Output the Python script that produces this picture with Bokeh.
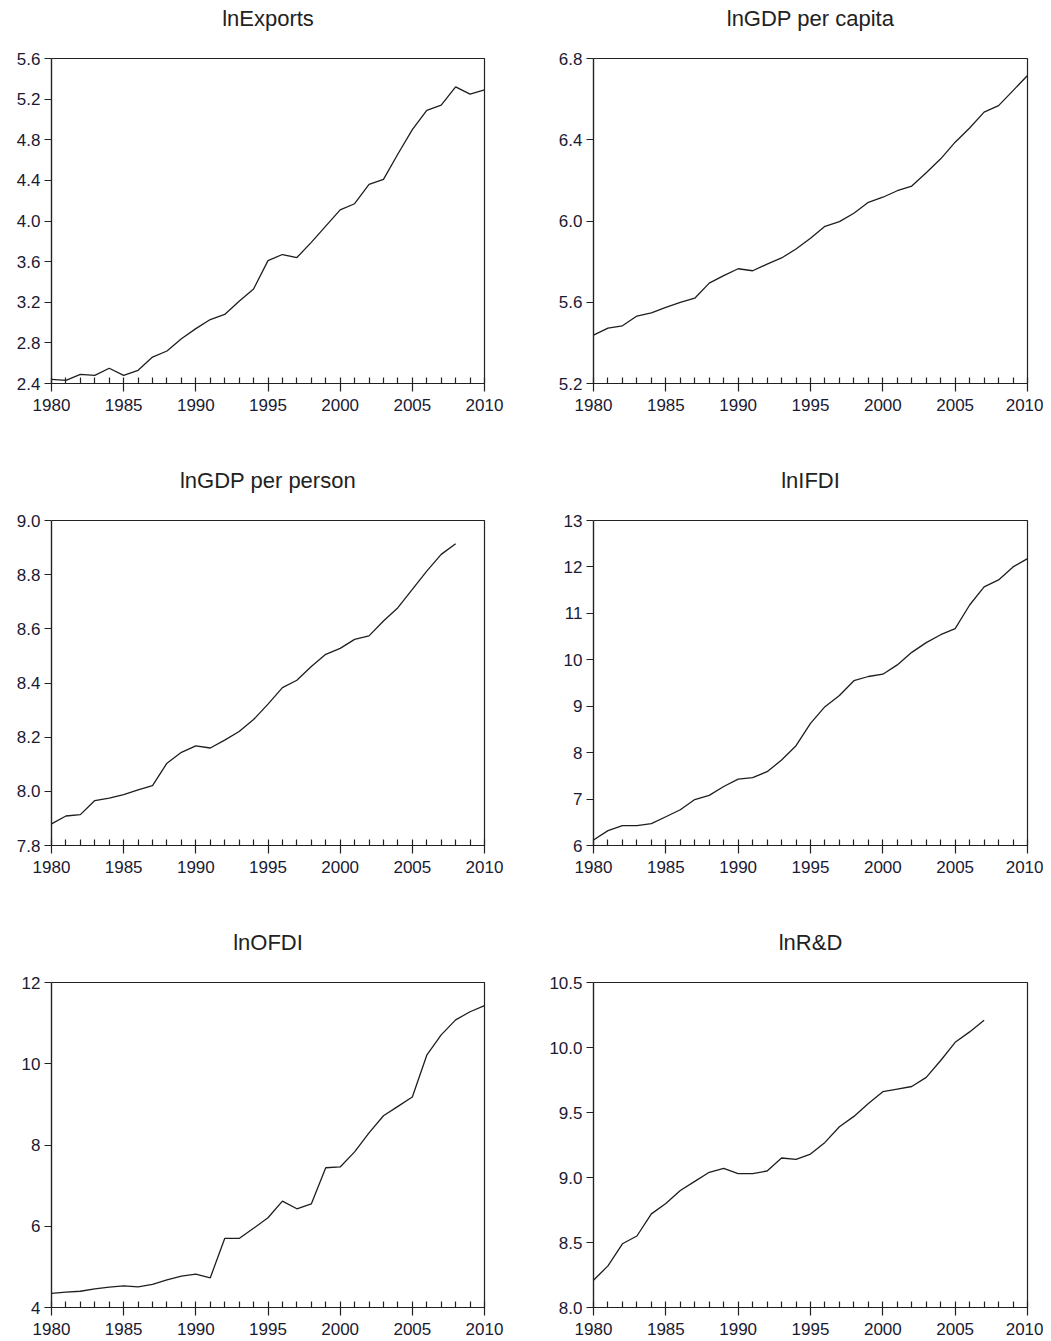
from bokeh.plotting import figure
from bokeh.layouts import column, row
from bokeh.models import FixedTicker, PrintfTickFormatter, Range1d, LinearAxis, Title
from bokeh.embed import file_html
from bokeh.resources import INLINE

years = list(range(1980, 2011))
x_ticks = [1980, 1985, 1990, 1995, 2000, 2005, 2010]

ln_exports = [2.44, 2.43, 2.49, 2.48, 2.55, 2.48, 2.53, 2.66, 2.72, 2.84,
              2.94, 3.03, 3.08, 3.21, 3.33, 3.61, 3.67, 3.64, 3.79, 3.95,
              4.11, 4.17, 4.36, 4.41, 4.66, 4.90, 5.09, 5.14, 5.32, 5.25, 5.29]

ln_gdp_per_capita = [5.438, 5.473, 5.484, 5.532, 5.548, 5.575, 5.599, 5.620, 5.694, 5.731,
                     5.765, 5.755, 5.788, 5.818, 5.862, 5.915, 5.974, 5.997, 6.038, 6.092,
                     6.117, 6.149, 6.172, 6.238, 6.306, 6.388, 6.458, 6.536, 6.568, 6.642, 6.716]

ln_gdp_per_person = [7.880, 7.909, 7.914, 7.966, 7.975, 7.988, 8.005, 8.021, 8.104, 8.144,
                     8.168, 8.160, 8.189, 8.221, 8.265, 8.322, 8.383, 8.410, 8.461, 8.506,
                     8.528, 8.561, 8.574, 8.629, 8.678, 8.746, 8.813, 8.875, 8.914]

ln_ifdi = [6.12, 6.32, 6.43, 6.43, 6.47, 6.62, 6.77, 6.99, 7.08, 7.27,
           7.43, 7.46, 7.59, 7.84, 8.15, 8.63, 8.99, 9.23, 9.55, 9.64,
           9.69, 9.89, 10.16, 10.37, 10.54, 10.67, 11.18, 11.57, 11.72, 12.00, 12.18]

ln_ofdi = [4.35, 4.38, 4.40, 4.46, 4.50, 4.53, 4.51, 4.57, 4.68, 4.77,
           4.82, 4.73, 5.70, 5.70, 5.95, 6.21, 6.62, 6.43, 6.55, 7.44,
           7.46, 7.83, 8.30, 8.72, 8.95, 9.18, 10.21, 10.71, 11.08, 11.28, 11.43]

ln_rd = [8.21, 8.32, 8.49, 8.55, 8.72, 8.80, 8.90, 8.97, 9.04, 9.07,
         9.03, 9.03, 9.05, 9.15, 9.14, 9.18, 9.27, 9.39, 9.47, 9.57,
         9.66, 9.68, 9.70, 9.77, 9.90, 10.04, 10.12, 10.21]

titles = ["lnExports", "lnGDP per capita", "lnGDP per person", "lnIFDI", "lnOFDI", "lnR&D"]
series = [ln_exports, ln_gdp_per_capita, ln_gdp_per_person, ln_ifdi, ln_ofdi, ln_rd]
y_ticks = [
    [2.4, 2.8, 3.2, 3.6, 4.0, 4.4, 4.8, 5.2, 5.6],
    [5.2, 5.6, 6.0, 6.4, 6.8],
    [7.8, 8.0, 8.2, 8.4, 8.6, 8.8, 9.0],
    [6, 7, 8, 9, 10, 11, 12, 13],
    [4, 6, 8, 10, 12],
    [8.0, 8.5, 9.0, 9.5, 10.0, 10.5],
]
y_formats = ["%.1f", "%.1f", "%.1f", "%d", "%d", "%.1f"]

FONT = "Liberation Sans"
INK = "#222222"


def make_panel(i):
    left_col = (i % 2 == 0)
    first_row = (i < 2)
    last_row = (i >= 4)
    yt = y_ticks[i]
    p = figure(
        frame_width=433 if left_col else 434,
        frame_height=325,
        min_border_left=51 if left_col else 55,
        min_border_right=54 if left_col else 16,
        min_border_top=58 if first_row else 55,
        min_border_bottom=30 if last_row else 82,
        x_range=Range1d(1980, 2010),
        y_range=Range1d(yt[0], yt[-1]),
        output_backend="svg",
        toolbar_location=None,
        tools="",
    )

    # invisible spacer between the frame and the title
    spacer = LinearAxis(ticker=FixedTicker(ticks=[1980], minor_ticks=[]),
                        major_label_overrides={1980: ""},
                        major_tick_out=28, major_tick_in=0,
                        minor_tick_out=0, minor_tick_in=0,
                        axis_line_color=None, major_tick_line_color="white",
                        major_tick_line_width=1,
                        minor_tick_line_color=None, major_label_standoff=0)
    p.add_layout(spacer, "above")

    title = Title(text=titles[i], align="center", text_font=FONT,
                  text_font_size="22px", text_font_style="normal",
                  text_color=INK, standoff=0)
    p.add_layout(title, "above")

    p.outline_line_color = INK
    p.outline_line_width = 1.2
    p.outline_line_alpha = 1.0
    p.grid.visible = False
    p.background_fill_color = "white"
    p.border_fill_color = "white"

    xa = p.below[0]
    xa.ticker = FixedTicker(ticks=x_ticks, minor_ticks=years)
    xa.major_tick_in = 0
    xa.major_tick_out = 8
    xa.minor_tick_in = 6
    xa.minor_tick_out = 0
    xa.major_label_standoff = 7

    ya = p.left[0]
    ya.ticker = FixedTicker(ticks=yt, minor_ticks=[])
    ya.formatter = PrintfTickFormatter(format=y_formats[i])
    ya.major_tick_in = 0
    ya.major_tick_out = 7
    ya.minor_tick_in = 0
    ya.minor_tick_out = 0
    ya.major_label_standoff = 4

    for ax in (xa, ya):
        ax.axis_line_color = INK
        ax.axis_line_width = 1.2
        ax.major_tick_line_color = INK
        ax.major_tick_line_width = 1.2
        ax.minor_tick_line_color = INK
        ax.minor_tick_line_width = 1.2
        ax.major_label_text_font = FONT
        ax.major_label_text_font_size = "17px"
        ax.major_label_text_color = "#1a1a33"

    vals = series[i]
    p.line(years[:len(vals)], vals, line_color="#1e1e1e", line_width=1.3)
    return p


panels = [make_panel(i) for i in range(6)]
layout = column(
    row(panels[0], panels[1]),
    row(panels[2], panels[3]),
    row(panels[4], panels[5]),
)

open("out.html", "w").write(file_html(layout, INLINE))
